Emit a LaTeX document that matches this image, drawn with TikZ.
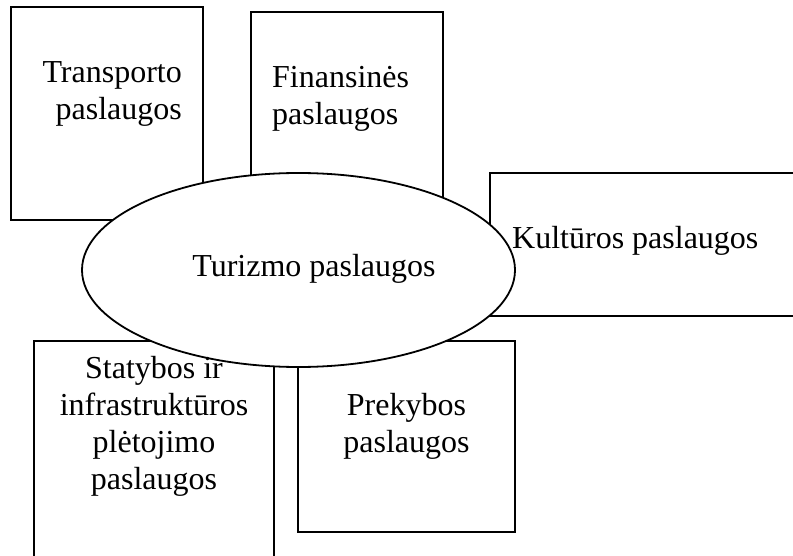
\documentclass[tikz,border=0pt]{standalone}
\usepackage{fontspec}
\setmainfont{Liberation Serif}
\usetikzlibrary{shapes.geometric}
\tikzset{
  box/.style={draw, line width=1.8pt, inner sep=0pt, outer sep=0pt, anchor=north west},
  txt/.style={inner sep=0pt, font=\fontsize{32}{37}\selectfont}
}
\begin{document}
\begin{tikzpicture}[x=1pt, y=-1pt]
                \clip (0,0) rectangle (793,556);
                \fill[white] (0,0) rectangle (793,556);
                \node[box, minimum width=192pt, minimum height=213pt] (transp) at (11,7) {};
                \node[box, minimum width=192pt, minimum height=208pt] (finan) at (251,12) {};
                \node[box, minimum width=330pt, minimum height=143pt] (kult) at (490,173) {};
                \node[box, minimum width=240pt, minimum height=240pt] (stat) at (34,341) {};
                \node[box, minimum width=217pt, minimum height=191pt] (prek) at (298,341) {};
                \node[ellipse, draw, fill=white, line width=1.8pt, inner sep=0pt, minimum width=433pt, minimum height=194pt] (turizmas) at (298.5,270) {};
                % tekstai (anchor = paskutines eilutes baseline)
                \node[txt, anchor=base east, align=right] (transptxt) at (182,120) {Transporto\\paslaugos};
                \node[txt, anchor=base west, align=left] (finantxt) at (272,125) {Finansinės\\paslaugos};
                \node[txt, anchor=base west] (kulttxt) at (512,249) {Kultūros paslaugos};
                \node[txt, anchor=base, align=center] (stattxt) at (154,489) {Statybos ir\\infrastruktūros\\plėtojimo\\paslaugos};
                \node[txt, anchor=base, align=center] (prektxt) at (406.5,452) {Prekybos\\paslaugos};
                \node[txt, anchor=base] (turizmastxt) at (314,277) {Turizmo paslaugos};
            \end{tikzpicture}
\end{document}
